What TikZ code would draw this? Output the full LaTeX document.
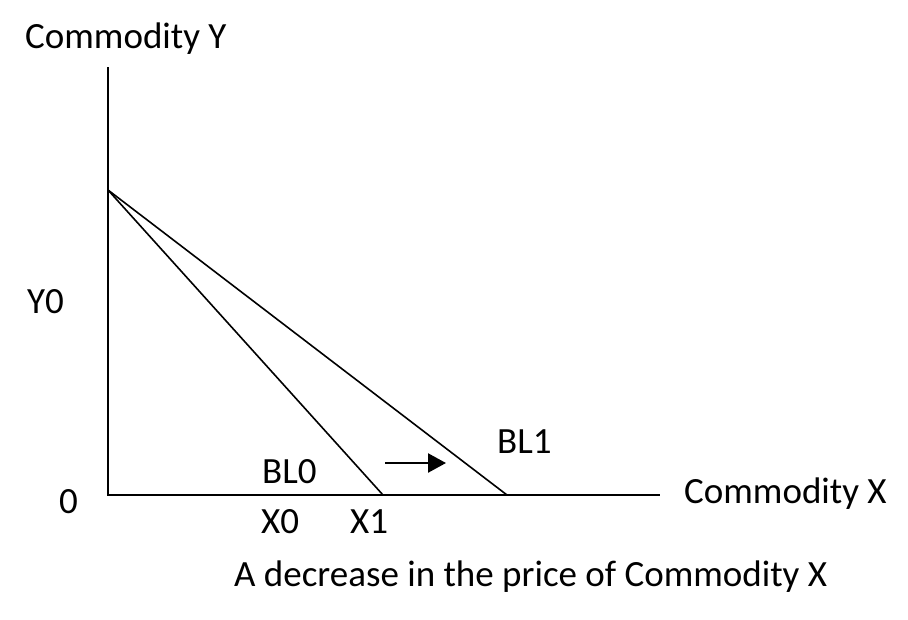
\documentclass[tikz,border=0pt]{standalone}
\usepackage{fontspec}
\setmainfont{Carlito}
\usetikzlibrary{arrows.meta}
\begin{document}
\begin{tikzpicture}[x=1pt,y=-1pt,
  lbl/.style={anchor=base west,inner sep=0pt,font=\fontsize{37}{42}\selectfont},
  axis/.style={line width=2.2pt},
  bline/.style={line width=1.6pt}]
\useasboundingbox (0,0) rectangle (908,619);
\coordinate (O) at (108,495);
\coordinate (Ytop) at (108,67);
\coordinate (Xend) at (660,495);
\coordinate (A) at (108,190);
\coordinate (B0) at (383,495);
\coordinate (B1) at (507,495);
\coordinate (arrS) at (385,463);
\coordinate (arrE) at (446,463);
\draw[axis] (Ytop) -- (O) -- (Xend);
\draw[bline] (A) -- (B0);
\draw[bline] (A) -- (B1);
\draw[line width=2.4pt,-{Triangle[length=18pt,width=19pt]}] (arrS) -- (arrE);
\node[lbl] (cy) at (25,48) {Commodity Y};
\node[lbl] (y0) at (27,313) {Y0};
\node[lbl] (zero) at (59,513) {0};
\node[lbl] (bl0) at (262,483) {BL0};
\node[lbl] (bl1) at (497,453) {BL1};
\node[lbl] (cx) at (684,503) {Commodity X};
\node[lbl] (x0) at (261,533) {X0};
\node[lbl] (x1) at (350,533) {X1};
\node[lbl] (cap) at (234,586) {A decrease in the price of Commodity X};
\end{tikzpicture}
\end{document}
